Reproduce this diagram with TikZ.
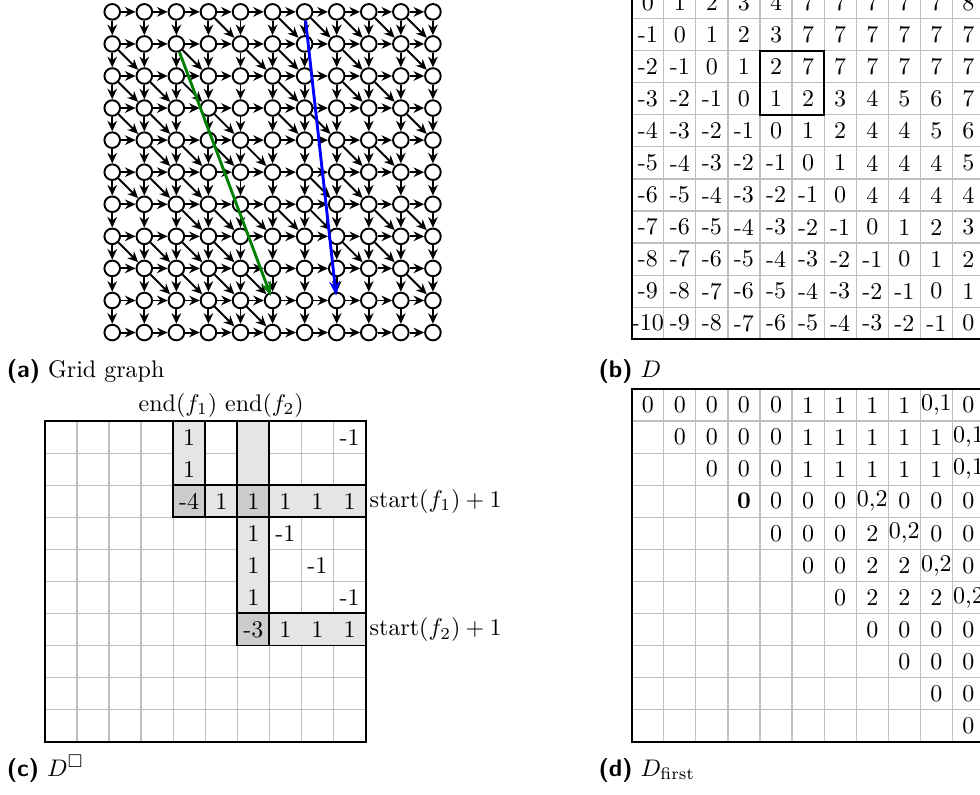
\documentclass[tikz,border=0pt]{standalone}
\usepackage{amssymb}
\usetikzlibrary{arrows.meta}

\begin{document}
\begin{tikzpicture}[x=13.36pt,y=13.36pt,>={Stealth[length=4.4pt,width=4pt]},
  vtx/.style={circle,draw,thick,fill=white,minimum size=6.5pt,inner sep=0pt},
  edge/.style={->,thick},
  gridline/.style={gray!50,line width=0.5pt,step=1},
  frame/.style={line width=0.8pt},
  lite/.style={fill=gray!20},
  dark/.style={fill=gray!40},
  subcap/.style={anchor=base west,inner sep=0pt}]
  \useasboundingbox (0,0) rectangle (30.56,24.76);
  \clip (0,0) rectangle (30.56,24.76);

  % (a) grid graph
  \foreach \r in {0,...,10}
    \foreach \c in {0,...,10}
      \node[vtx] (n-\r-\c) at (3.5+\c,24.39-\r) {};
  \foreach \r in {0,...,10}
    \foreach \c in {0,...,9} {
      \pgfmathtruncatemacro\d{\c+1}
      \draw[edge] (n-\r-\c) -- (n-\r-\d);
      \draw[edge] (n-\c-\r) -- (n-\d-\r);
    }
  \foreach \r/\c in {0/3,0/5,0/6,0/7,0/8,0/9,
                     1/0,1/2,1/4,1/5,1/7,1/9,
                     2/0,2/1,2/2,2/5,2/7,2/8,
                     3/0,3/1,3/3,3/5,3/6,3/9,
                     4/1,4/2,4/3,4/4,4/7,4/8,
                     5/0,5/1,5/2,5/6,5/7,
                     6/2,6/3,6/4,6/5,6/6,6/8,6/9,
                     7/0,7/1,7/2,7/3,7/7,7/8,
                     8/1,8/2,8/3,8/4,8/9,
                     9/3,9/4} {
    \pgfmathtruncatemacro\s{\r+1}
    \pgfmathtruncatemacro\t{\c+1}
    \draw[edge] (n-\r-\c) -- (n-\s-\t);
  }
  \draw[->,green!50!black,line width=1.2pt,>={Stealth[length=6pt,width=4.5pt]},shorten >=2pt]
    (n-1-2) -- (n-9-5.center);
  \draw[->,blue,line width=1.2pt,>={Stealth[length=6pt,width=4.5pt]},shorten >=2pt]
    (n-0-6) -- (n-9-7.center);
  \node[subcap] (capa) at (0.2,12.98) {\textsf{\textbf{(a)}} Grid graph};

  % (b) D
  \begin{scope}[shift={(19.70,14.18)}]
    \draw[gridline] (0,0) grid (11,11);
    \draw[frame] (0,0) rectangle (11,11);
    \draw[frame] (4,7) rectangle (6,9);
    \foreach \row [count=\r from 0] in {
      {0,1,2,3,4,7,7,7,7,7,8},
      {-1,0,1,2,3,7,7,7,7,7,7},
      {-2,-1,0,1,2,7,7,7,7,7,7},
      {-3,-2,-1,0,1,2,3,4,5,6,7},
      {-4,-3,-2,-1,0,1,2,4,4,5,6},
      {-5,-4,-3,-2,-1,0,1,4,4,4,5},
      {-6,-5,-4,-3,-2,-1,0,4,4,4,4},
      {-7,-6,-5,-4,-3,-2,-1,0,1,2,3},
      {-8,-7,-6,-5,-4,-3,-2,-1,0,1,2},
      {-9,-8,-7,-6,-5,-4,-3,-2,-1,0,1},
      {-10,-9,-8,-7,-6,-5,-4,-3,-2,-1,0}}
      \foreach \v [count=\c from 0] in \row
        \node[inner sep=0pt] (b-\r-\c) at (\c+0.5,10.5-\r) {\v};
  \end{scope}
  \node[subcap] (capb) at (18.65,12.98) {\textsf{\textbf{(b)}} $D$};

  % (c) D box
  \begin{scope}[shift={(1.40,1.63)}]
    \draw[gridline] (0,0) grid (10,10);
    \fill[lite] (4,7) rectangle (5,10) (6,3) rectangle (7,10)
                (4,7) rectangle (10,8) (6,3) rectangle (10,4);
    \fill[dark] (4,7) rectangle (5,8) (6,7) rectangle (7,8) (6,3) rectangle (7,4);
    \draw[frame] (4,7) rectangle (5,10) (6,3) rectangle (7,10)
                 (4,7) rectangle (10,8) (6,3) rectangle (10,4);
    \draw[frame] (0,0) rectangle (10,10);
    \foreach \r/\c/\v in {0/4/1,0/9/-1,1/4/1,
                          2/4/-4,2/5/1,2/6/1,2/7/1,2/8/1,2/9/1,
                          3/6/1,3/7/-1,4/6/1,4/8/-1,5/6/1,5/9/-1,
                          6/6/-3,6/7/1,6/8/1,6/9/1}
      \node[inner sep=0pt] (c-\r-\c) at (\c+0.5,9.5-\r) {\v};
    \node[anchor=base,inner sep=0pt] (ends) at (5.5,10.31)
      {$\mathrm{end}(f_1)$ $\mathrm{end}(f_2)$};
    \node[anchor=west,inner sep=1.5pt] (start1) at (10,7.5) {$\mathrm{start}(f_1)+1$};
    \node[anchor=west,inner sep=1.5pt] (start2) at (10,3.5) {$\mathrm{start}(f_2)+1$};
  \end{scope}
  \node[subcap] (capc) at (0.2,0.55) {\textsf{\textbf{(c)}} $D^{\square}$};

  % (d) D first
  \begin{scope}[shift={(19.70,1.63)}]
    \draw[gridline] (0,0) grid (11,11);
    \draw[frame] (0,0) rectangle (11,11);
    \foreach \row [count=\r from 0] in {
      {0,0,0,0,0,1,1,1,1,{0,1},0},
      {0,0,0,0,1,1,1,1,1,{0,1}},
      {0,0,0,1,1,1,1,1,{0,1}},
      {\textbf{0},0,0,0,{0,2},0,0,0},
      {0,0,0,2,{0,2},0,0},
      {0,0,2,2,{0,2},0},
      {0,2,2,2,{0,2}},
      {0,0,0,0},
      {0,0,0},
      {0,0},
      {0}}
      \foreach \v [count=\c from \r] in \row
        \node[inner sep=0pt] (d-\r-\c) at (\c+0.5,10.5-\r) {\v};
  \end{scope}
  \node[subcap] (capd) at (18.65,0.55) {\textsf{\textbf{(d)}} $D_{\mathrm{first}}$};
\end{tikzpicture}
\end{document}
